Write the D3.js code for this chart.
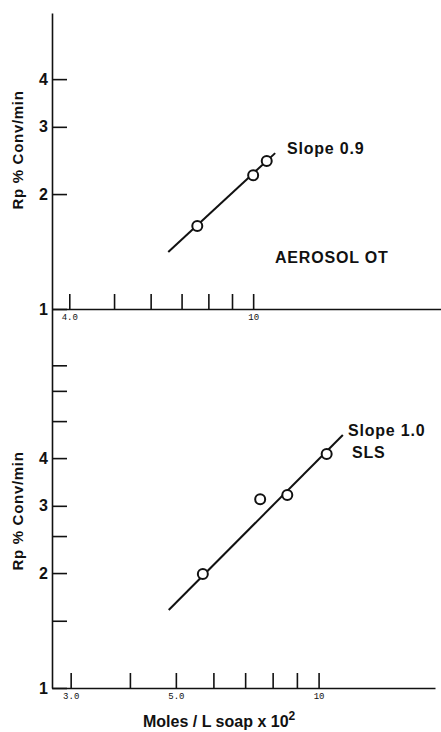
<!DOCTYPE html>
<html>
<head>
<meta charset="utf-8">
<script src="https://cdn.jsdelivr.net/npm/d3@7"></script>
<style>
  body { margin: 0; background: #fff; }
  svg text { font-family: "Liberation Sans", Arial, sans-serif; fill: #111; }
  .axis path, .axis line { stroke: #111; stroke-width: 1.6; }
  .axis text { font-family: "Liberation Sans", Arial, sans-serif; font-weight: bold; font-size: 16px; fill: #111; }
  .xaxis text { font-family: "Liberation Mono", monospace; font-weight: normal; font-size: 9px; }
</style>
</head>
<body>
<div id="app"></div>
<script>
// top panel: Aerosol OT
const aotX = [7.57, 10.0, 10.7];
const aotY = [1.65, 2.24, 2.44];
const aotFitX = [6.55, 11.16];
const aotFitY = [1.41, 2.56];
const aotYTicks = [1, 2, 3, 4];
const aotXTicks = [4, 5, 6, 7, 8, 9, 10];
const aotXLabels = { 4: '4.0', 10: '10' };

// bottom panel: SLS
const slsX = [5.70, 7.53, 8.59, 10.4];
const slsY = [1.99, 3.12, 3.20, 4.10];
const slsFitX = [4.83, 11.25];
const slsFitY = [1.60, 4.60];
const slsYTicks = [1, 1.5, 2, 2.5, 3, 4, 5, 6, 7];
const slsYLabels = [1, 2, 3, 4];
const slsXTicks = [3, 4, 5, 6, 7, 8, 9, 10];
const slsXLabels = { 3: '3.0', 5: '5.0', 10: '10' };

const W = 441, H = 732;
const svg = d3.select('#app').append('svg')
  .attr('width', W).attr('height', H);

function panel(o) {
  const x = d3.scaleLog().domain(o.xDomain).range([52, o.xRight]);
  const y = d3.scaleLog().domain(o.yDomain).range([o.yBottom, o.yTop]);
  const g = svg.append('g');

  g.append('g')
    .attr('class', 'axis')
    .attr('transform', 'translate(52,0)')
    .call(d3.axisLeft(y).tickValues(o.yTicks)
      .tickSizeInner(-15).tickSizeOuter(0).tickPadding(4)
      .tickFormat(d => o.yLabels.includes(d) ? d3.format('d')(d) : ''));

  g.append('g')
    .attr('class', 'axis xaxis')
    .attr('transform', `translate(0,${o.yBottom})`)
    .call(d3.axisBottom(x).tickValues(o.xTicks)
      .tickSizeInner(-15).tickSizeOuter(0).tickPadding(5)
      .tickFormat(d => o.xLabels[d] || ''));

  g.append('line')
    .attr('x1', x(o.fitX[0])).attr('y1', y(o.fitY[0]))
    .attr('x2', x(o.fitX[1])).attr('y2', y(o.fitY[1]))
    .attr('stroke', '#111').attr('stroke-width', 2);

  g.selectAll('circle')
    .data(o.px.map((v, i) => [v, o.py[i]]))
    .enter().append('circle')
    .attr('cx', d => x(d[0]))
    .attr('cy', d => y(d[1]))
    .attr('r', 5)
    .attr('fill', '#fff').attr('stroke', '#111').attr('stroke-width', 2);

  g.append('text')
    .attr('transform', `translate(23,${o.labelY}) rotate(-90)`)
    .attr('text-anchor', 'middle')
    .attr('font-size', 15).attr('font-weight', 'bold')
    .attr('letter-spacing', 0.7)
    .text('Rp % Conv/min');

  o.notes.forEach(n => {
    g.append('text')
      .attr('x', n.x).attr('y', n.y)
      .attr('font-size', 16).attr('font-weight', 'bold')
      .attr('letter-spacing', 0.8)
      .text(n.t);
  });
  return { x, y };
}

panel({
  xDomain: [3.67, 25.5], xRight: 441,
  yDomain: [1, 5.96], yBottom: 309, yTop: 13,
  yTicks: aotYTicks, yLabels: aotYTicks,
  xTicks: aotXTicks, xLabels: aotXLabels,
  fitX: aotFitX, fitY: aotFitY, px: aotX, py: aotY,
  labelY: 150,
  notes: [{ x: 287, y: 154, t: 'Slope  0.9' }, { x: 275, y: 263, t: 'AEROSOL  OT' }]
});

panel({
  xDomain: [2.74, 17.6], xRight: 435,
  yDomain: [1, 9.83], yBottom: 688, yTop: 309,
  yTicks: slsYTicks, yLabels: slsYLabels,
  xTicks: slsXTicks, xLabels: slsXLabels,
  fitX: slsFitX, fitY: slsFitY, px: slsX, py: slsY,
  labelY: 511,
  notes: [{ x: 348, y: 436, t: 'Slope 1.0' }, { x: 352, y: 458, t: 'SLS' }]
});

const title = svg.append('text')
  .attr('x', 143).attr('y', 727)
  .attr('font-size', 16).attr('font-weight', 'bold');
title.append('tspan').text('Moles / L soap x 10');
title.append('tspan').attr('dy', -7).attr('font-size', 12).text('2');
</script>
</body>
</html>
